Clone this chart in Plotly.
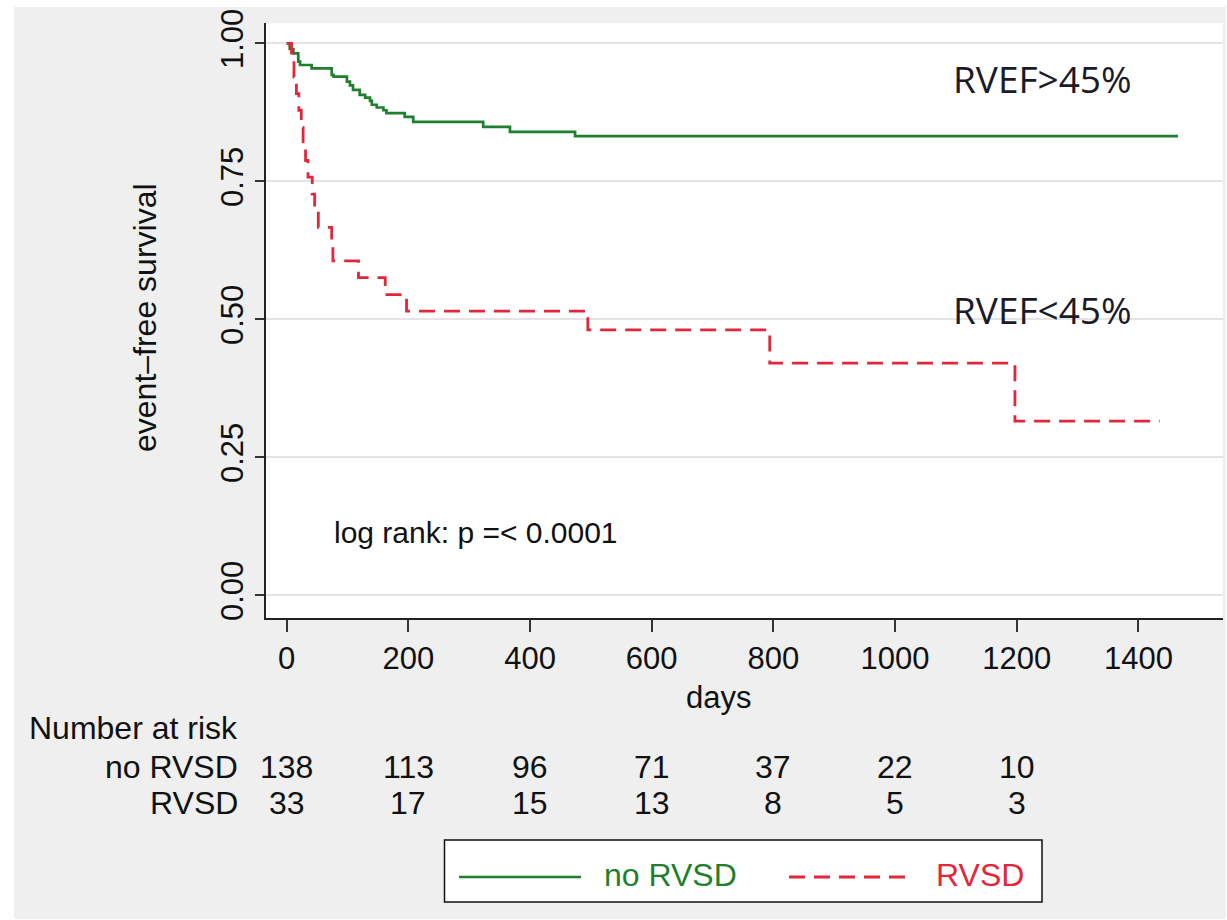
import plotly.graph_objects as go

# ---------------- data ----------------
green_days = [0, 5, 11, 19, 22, 41, 74, 77, 99, 104, 109, 120, 129, 137, 140, 148, 159, 164, 194, 208, 323, 367, 474, 1465]
green_surv = [1.0, 0.990, 0.982, 0.967, 0.961, 0.955, 0.943, 0.940, 0.931, 0.924, 0.916, 0.907, 0.902, 0.896,
              0.889, 0.884, 0.879, 0.874, 0.867, 0.858, 0.849, 0.840, 0.832, 0.832]

red_days = [0, 8, 12, 16, 20, 24, 27, 31, 35, 42, 46, 52, 74, 76, 118, 162, 197, 495, 794, 1197, 1435]
red_surv = [1.0, 0.970, 0.939, 0.909, 0.879, 0.848, 0.818, 0.788, 0.758, 0.727, 0.697, 0.667, 0.636,
            0.606, 0.576, 0.545, 0.515, 0.481, 0.421, 0.316, 0.316]

x_ticks = [0, 200, 400, 600, 800, 1000, 1200, 1400]
y_ticks = [0.0, 0.25, 0.5, 0.75, 1.0]
y_ticktext = ["0.00", "0.25", "0.50", "0.75", "1.00"]

risk_days = [0, 200, 400, 600, 800, 1000, 1200]
risk_no_rvsd = [138, 113, 96, 71, 37, 22, 10]
risk_rvsd = [33, 17, 15, 13, 8, 5, 3]

group_names = ["no RVSD", "RVSD"]

# ---------------- layout helpers ----------------
W, H = 1227, 920
L, R, T, B = 266, 4, 23, 302
PW = W - L - R
PH = H - T - B


def px(x):
    return (x - L) / PW


def py(y):
    return (H - B - y) / PH


FONT = "Liberation Sans, Arial, Helvetica, sans-serif"
GREEN = "#1f7f2f"
RED = "#e3263a"
TXT = "#111111"

fig = go.Figure()
fig.add_trace(go.Scatter(x=green_days, y=green_surv, mode="lines", line_shape="hv",
                         line=dict(color=GREEN, width=2.7), name=group_names[0], showlegend=False))
fig.add_trace(go.Scatter(x=red_days, y=red_surv, mode="lines", line_shape="hv",
                         line=dict(color=RED, width=2.8, dash="16px,9px"), name=group_names[1], showlegend=False))

shapes = [
    dict(type="rect", xref="paper", yref="paper", x0=px(14), x1=px(1226), y0=py(919), y1=py(7),
         fillcolor="#efefef", line=dict(width=0), layer="below"),
    dict(type="rect", xref="paper", yref="paper", x0=0, x1=1, y0=0, y1=1,
         fillcolor="white", line=dict(width=0), layer="below"),
    # legend box
    dict(type="rect", xref="paper", yref="paper", x0=px(444.5), x1=px(1042), y0=py(902), y1=py(840),
         fillcolor="white", line=dict(color="#111", width=1.5)),
    dict(type="line", xref="paper", yref="paper", x0=px(459), x1=px(581), y0=py(877), y1=py(877),
         line=dict(color=GREEN, width=2.7)),
    dict(type="line", xref="paper", yref="paper", x0=px(789), x1=px(914), y0=py(877), y1=py(877),
         line=dict(color=RED, width=2.8, dash="16px,9px")),
]


def text(t, x, y, size=32, color=TXT, xanchor="center", xref="paper", family=FONT, angle=0):
    return dict(text=t, x=x, y=y, xref=xref, yref="paper", xanchor=xanchor, yanchor="middle",
                textangle=angle, showarrow=False, font=dict(size=size, color=color, family=family))


ann = []
ann.append(text("event–free survival", px(145), py(318), angle=-90))
ann.append(text("days", px(718), py(697), size=31))
ann.append(text("Number at risk", px(240), py(728), xanchor="right"))
ann.append(text(group_names[0], px(240), py(767), xanchor="right"))
ann.append(text(group_names[1], px(240), py(803), xanchor="right"))
for d, a, b in zip(risk_days, risk_no_rvsd, risk_rvsd):
    ann.append(text(str(a), d, py(767), xref="x"))
    ann.append(text(str(b), d, py(803), xref="x"))
# legend texts
ann.append(text(group_names[0], px(602), py(875), color=GREEN, xanchor="left"))
ann.append(text(group_names[1], px(934), py(875), color=RED, xanchor="left"))
# in-plot labels
ann.append(text("RVEF>45%", px(951), py(78), size=37, color="#1b1b28", xanchor="left",
                family="Open Sans, sans-serif"))
ann.append(text("RVEF<45%", px(951), py(310), size=37, color="#1b1b28", xanchor="left",
                family="Open Sans, sans-serif"))
ann.append(text("log rank: p =< 0.0001", px(332), py(532), size=30, xanchor="left"))

fig.update_layout(
    width=W, height=H,
    margin=dict(l=L, r=R, t=T, b=B, pad=0),
    paper_bgcolor="white", plot_bgcolor="white",
    showlegend=False,
    shapes=shapes, annotations=ann,
    font=dict(family=FONT, color=TXT),
)
fig.update_xaxes(range=[-34, 1539], tickvals=x_ticks, ticks="outside", ticklen=12, tickwidth=2,
                 tickcolor="#333", showline=True, linecolor="#222", linewidth=2, showgrid=False,
                 zeroline=False, tickfont=dict(size=31, color=TXT, family=FONT))
fig.update_yaxes(range=[-0.0408, 1.0371], tickvals=y_ticks, ticktext=y_ticktext, ticks="outside",
                 ticklen=9, tickwidth=2, tickcolor="#333", showline=True, linecolor="#222", linewidth=2,
                 showgrid=True, gridcolor="#e4e4e4", gridwidth=2, zeroline=False, tickangle=-90,
                 tickfont=dict(size=31, color=TXT, family=FONT))

fig.write_html("out.html")
